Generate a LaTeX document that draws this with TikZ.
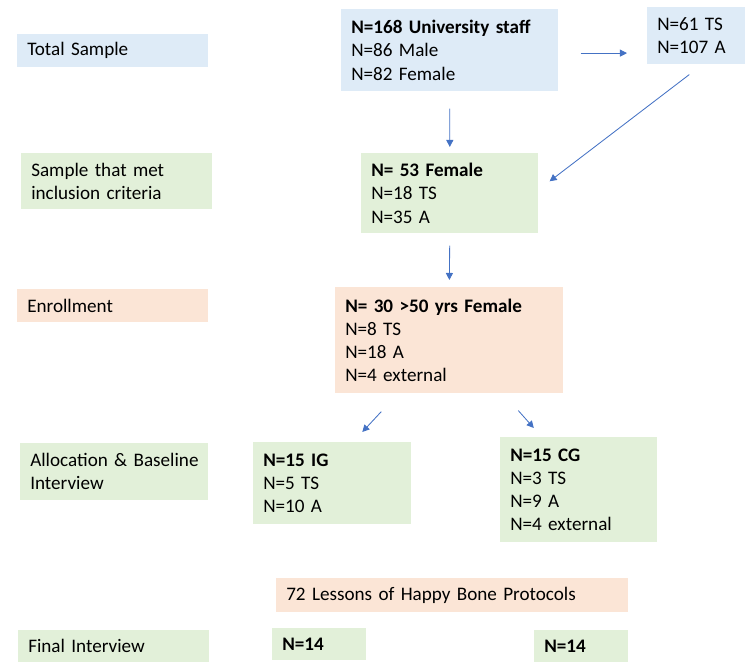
\documentclass[tikz,border=0pt]{standalone}
\usepackage{fontspec}
\setmainfont{Carlito}
\usepackage{tikz}
\usetikzlibrary{positioning, arrows.meta, calc}
\definecolor{mBlue}{HTML}{DEEBF7}
\definecolor{mGreen}{HTML}{E2F0D9}
\definecolor{mOrange}{HTML}{FBE5D6}
\definecolor{mArrow}{HTML}{4472C4}

\begin{document}
\begin{tikzpicture}[
  x=0.025cm, y=-0.025cm,
  box/.style={anchor=north west, align=left, inner xsep=0.25cm, inner ysep=0pt,
              font=\fontsize{13.6}{16.4}\selectfont},
  blubox/.style={box, fill=mBlue},
  grnbox/.style={box, fill=mGreen},
  orgbox/.style={box, fill=mOrange},
  arr/.style={draw=mArrow, line width=0.6pt, -{Triangle[length=5pt, width=5pt]}},
]
  \useasboundingbox (0,0) rectangle (745,666);

  % stage labels
  \node[blubox, text width=4.275cm, minimum height=0.825cm] (lblTotal) at (17,34) {Total Sample};
  \node[grnbox, text width=4.275cm, minimum height=1.4cm] (lblIncl) at (21,153) {Sample that met\\inclusion criteria};
  \node[orgbox, text width=4.275cm, minimum height=0.825cm] (lblEnrol) at (17,289) {Enrollment};
  \node[grnbox, text width=4.2cm, minimum height=1.425cm] (lblAlloc) at (20,443) {\mbox{Allocation \& Baseline}\\Interview};
  \node[grnbox, text width=4.275cm, minimum height=0.8cm] (lblFinal) at (18,630) {Final Interview};

  % counts
  \node[blubox, text width=4.925cm, minimum height=2.05cm] (total) at (341,9)
    {\textbf{N=168 University staff}\\N=86 Male\\N=82 Female};
  \node[blubox, text width=2.0cm, minimum height=1.425cm] (split) at (647,7)
    {N=61 TS\\N=107 A};
  \node[grnbox, text width=3.925cm, minimum height=2.0cm] (incl) at (361,153)
    {\textbf{N= 53 Female}\\N=18 TS\\N=35 A};
  \node[orgbox, text width=5.2cm, minimum height=2.65cm] (enrol) at (335,287)
    {\textbf{N= 30 >50 yrs Female}\\N=8 TS\\N=18 A\\N=4 external};
  \node[grnbox, text width=3.45cm, minimum height=2.05cm] (ig) at (253,442)
    {\textbf{N=15 IG}\\N=5 TS\\N=10 A};
  \node[grnbox, text width=3.425cm, minimum height=2.625cm] (cg) at (500,437)
    {\textbf{N=15 CG}\\N=3 TS\\N=9 A\\N=4 external};
  \node[orgbox, text width=8.3cm, minimum height=0.85cm] (lessons) at (276,578)
    {72 Lessons of Happy Bone Protocols};
  \node[grnbox, text width=1.85cm, minimum height=0.8cm] (igEnd) at (272,628) {\textbf{N=14}};
  \node[grnbox, text width=1.85cm, minimum height=0.8cm] (cgEnd) at (534,630) {\textbf{N=14}};

  % arrows
  \draw[arr, shorten <=0.55cm, shorten >=0.5cm] ([yshift=-2]total.east) -- ([yshift=-2]total.east -| split.west);
  \draw[arr, shorten <=0.425cm, shorten >=0.15cm] (total.south) -- (incl.north);
  \draw[arr] ([shift={(-8,10)}]split.south) -- ([shift={(11,-12)}]incl.east);
  \draw[arr, shorten <=0.3cm, shorten >=0.175cm] (incl.south) -- (enrol.north);
  \draw[arr] ([shift={(-68,18)}]enrol.south) -- ([shift={(30,-10)}]ig.north);
  \draw[arr] ([shift={(69,17)}]enrol.south) -- ([shift={(-45,-9)}]cg.north);
\end{tikzpicture}
\end{document}
